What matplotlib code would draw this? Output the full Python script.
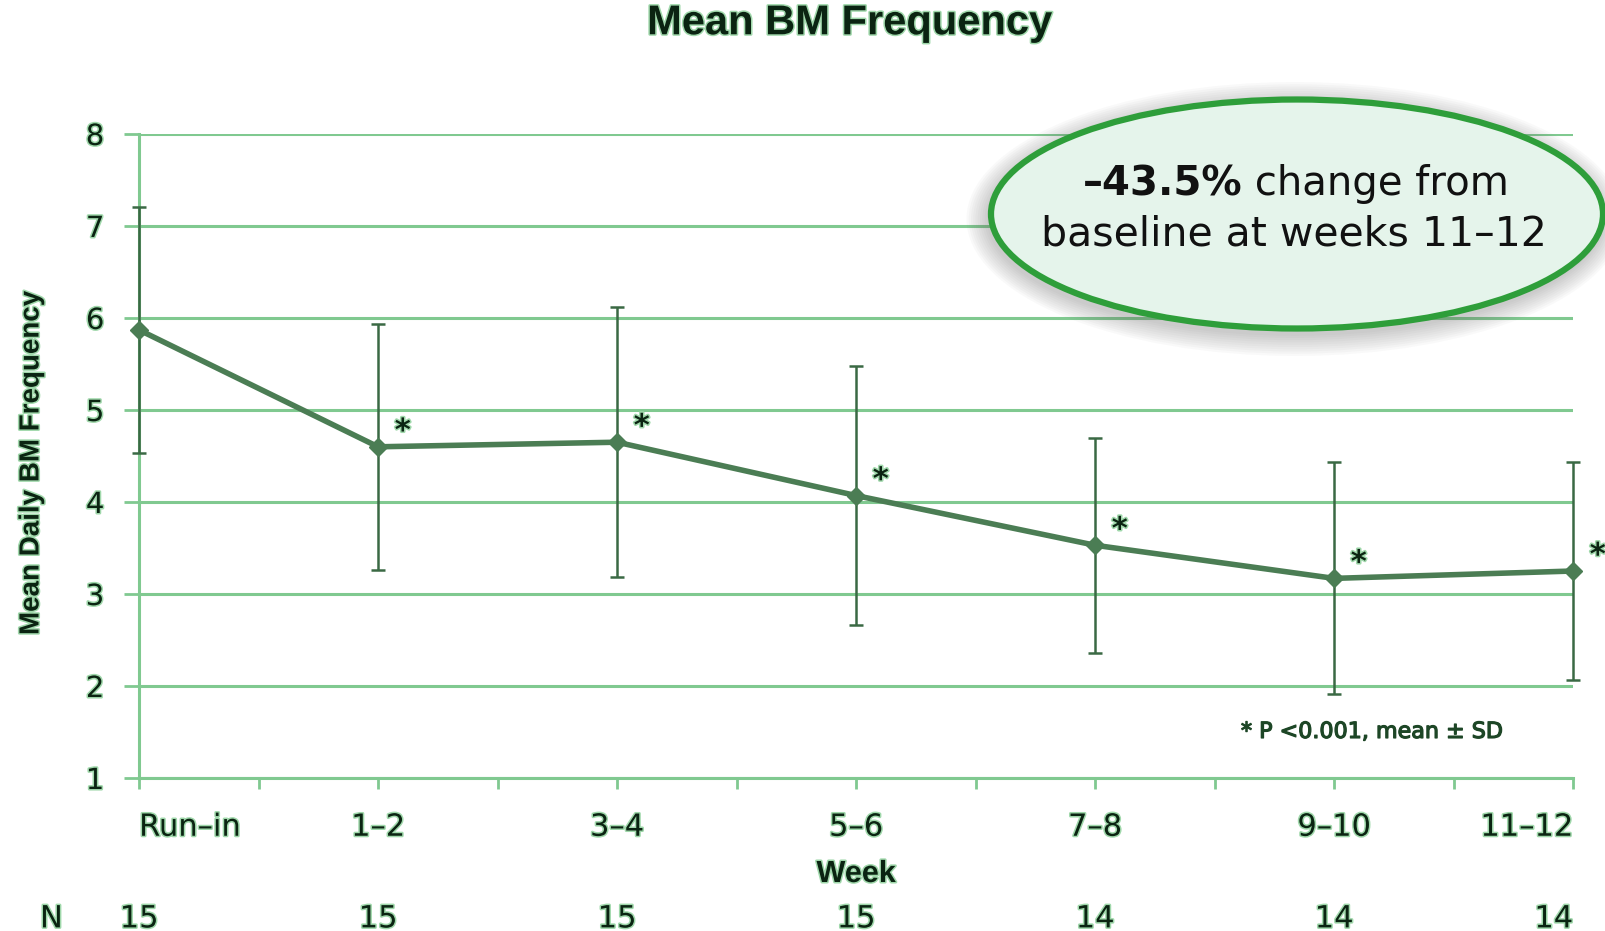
import matplotlib
matplotlib.use('Agg')
import matplotlib.pyplot as plt
import matplotlib.patheffects as pe
from matplotlib.patches import Ellipse
from matplotlib.text import Annotation
from matplotlib.transforms import blended_transform_factory

# data
weeks = ['Run–in', '1–2', '3–4', '5–6', '7–8', '9–10', '11–12']
mean_bm = [5.87, 4.60, 4.65, 4.07, 3.53, 3.17, 3.25]
sd_bm = [1.34, 1.34, 1.47, 1.41, 1.17, 1.26, 1.18]
n_pts = [15, 15, 15, 15, 14, 14, 14]
signif = [False, True, True, True, True, True, True]
y_ticks = [1, 2, 3, 4, 5, 6, 7, 8]

grid_c = '#80c990'
line_c = '#4b7d54'
err_c = '#3a6944'
txt_c = '#0b2412'
halo = [pe.withStroke(linewidth=2.2, foreground='#a0d8ab')]

fig = plt.figure(figsize=(16.06, 9.31), dpi=100)
ax = fig.add_axes([0.0866, 0.1643, 0.8929, 0.6918])
x = list(range(len(weeks)))

# error bars + mean line
ax.errorbar(x, mean_bm, yerr=sd_bm, fmt='none', ecolor=err_c, elinewidth=1.8,
            capsize=5, capthick=1.8, clip_on=False, zorder=3)
ax.plot(x, mean_bm, color=line_c, lw=4, marker='D', ms=9,
        mfc=line_c, mec=line_c, clip_on=False, zorder=4)

for xi, yi, s in zip(x, mean_bm, signif):
    if s:
        ax.annotate('*', (xi, yi), xytext=(12, 11), textcoords='offset points',
                    fontsize=22, fontweight='bold', color=txt_c,
                    ha='left', va='center', path_effects=halo)

# axes styling
ax.set_xlim(0, 6)
ax.set_ylim(1, 8)
ax.set_yticks(y_ticks)
ax.set_xticks(x)
ax.set_xticks([i + 0.5 for i in x[:-1]], minor=True)
ax.yaxis.grid(True, color=grid_c, lw=2.2)
ax.set_axisbelow(True)
for side in ['top', 'right']:
    ax.spines[side].set_visible(False)
for side in ['left', 'bottom']:
    ax.spines[side].set_color(grid_c)
    ax.spines[side].set_linewidth(2.2)

ax.tick_params(axis='y', length=11, width=2, color=grid_c, pad=14,
               labelsize=21, labelcolor=txt_c)
ax.tick_params(axis='x', which='both', length=8, width=2, color=grid_c)
ax.tick_params(axis='x', which='major', pad=17, labelsize=22, labelcolor=txt_c)
ax.set_xticklabels(weeks)
xl = ax.get_xticklabels()
xl[0].set_ha('left')
xl[-1].set_ha('right')
for t in ax.get_xticklabels() + ax.get_yticklabels():
    t.set_path_effects(halo)

ax.set_xlabel('Week', fontsize=22, fontweight='bold', family='Liberation Sans',
              color=txt_c, va='center', path_effects=halo)
ax.xaxis.set_label_coords(0.5, -0.149)
ax.set_ylabel('Mean Daily BM Frequency', fontsize=20, fontweight='bold',
              family='Liberation Sans', color=txt_c, va='center', ha='center',
              path_effects=halo)
ax.yaxis.set_label_coords(-0.075, 0.489)

# N row
tr = blended_transform_factory(ax.transData, fig.transFigure)
fig.text(0.032, 0.013, 'N', fontsize=22, color=txt_c, ha='center', va='center',
         path_effects=halo)
for i, n in enumerate(n_pts):
    ha = 'right' if i == len(n_pts) - 1 else 'center'
    fig.text(x[i], 0.013, str(n), transform=tr, fontsize=22, color=txt_c,
             ha=ha, va='center', path_effects=halo)

fig.text(0.529, 0.975, 'Mean BM Frequency', fontsize=30, fontweight='bold',
         family='Liberation Sans', color=txt_c, ha='center', va='center',
         path_effects=halo)

fig.text(0.7727, 0.2138, '* P <0.001, mean ± SD', fontsize=16,
         color='#1d4626', ha='left', va='center',
         path_effects=[pe.withStroke(linewidth=0.9, foreground='#1d4626')])

# callout ellipse with soft shadow
cx, cy, ew, eh = 12.97, 7.17, 6.12, 2.29
for k in range(10, 0, -1):
    sh = Ellipse((cx - 0.02, cy - 0.05), ew + 0.045 * k, eh + 0.045 * k,
                 transform=fig.dpi_scale_trans, facecolor='#606060',
                 edgecolor='none', alpha=0.035, zorder=9)
    fig.add_artist(sh)
ell = Ellipse((cx, cy), ew, eh, transform=fig.dpi_scale_trans,
              facecolor='#e5f4eb', edgecolor='#2e9e3a', lw=4.5, zorder=10)
fig.add_artist(ell)

t1 = fig.text(0.6740, 1 - 184 / 931, '–43.5%', fontsize=29, fontweight='bold',
              color='#111111', ha='left', va='center', zorder=11)
t2 = Annotation(' change from', xy=(1, 0.5), xycoords=t1, fontsize=29,
                color='#111111', ha='left', va='center', zorder=11,
                annotation_clip=False)
fig.add_artist(t2)
fig.text(0.8055, 1 - 234 / 931, 'baseline at weeks 11–12', fontsize=29.5,
         color='#111111', ha='center', va='center', zorder=11)

fig.savefig('out.png', dpi=100)
